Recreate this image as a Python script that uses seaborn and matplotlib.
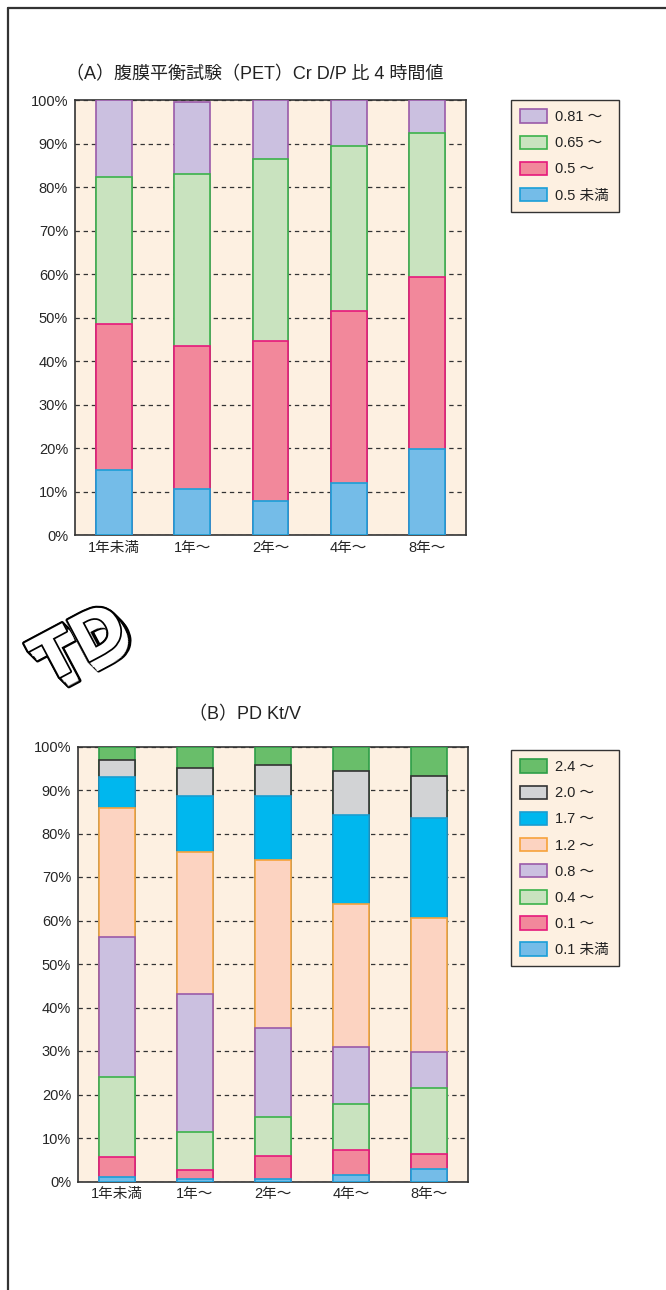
import numpy as np
import pandas as pd
import matplotlib
matplotlib.use("Agg")
import matplotlib.pyplot as plt
import matplotlib.patheffects as pe
from matplotlib.patches import Patch
from matplotlib.lines import Line2D
import seaborn as sns

# data (percent per layer, bottom -> top)
periods = ["1年未満", "1年～", "2年～", "4年～", "8年～"]

pet_labels = ["0.5 未満", "0.5 ～", "0.65 ～", "0.81 ～"]
pet_lt05 = [15.0, 10.5, 7.8, 11.9, 19.7]
pet_05 = [33.5, 33.0, 36.9, 39.6, 39.5]
pet_065 = [33.9, 39.6, 41.7, 37.9, 33.1]
pet_081 = [17.6, 16.4, 13.6, 10.6, 7.7]

ktv_labels = ["0.1 未満", "0.1 ～", "0.4 ～", "0.8 ～", "1.2 ～", "1.7 ～", "2.0 ～", "2.4 ～"]
ktv_lt01 = [1.0, 0.5, 0.6, 1.4, 2.8]
ktv_01 = [4.7, 2.1, 5.3, 5.8, 3.5]
ktv_04 = [18.4, 8.8, 9.0, 10.7, 15.3]
ktv_08 = [32.2, 31.7, 20.3, 13.1, 8.1]
ktv_12 = [29.6, 32.6, 38.7, 32.7, 30.8]
ktv_17 = [7.1, 13.0, 14.8, 20.5, 23.0]
ktv_20 = [4.0, 6.3, 7.0, 10.2, 9.8]
ktv_24 = [3.0, 5.0, 4.3, 5.6, 6.7]

# styles
BG = "#fdf0e1"
pet_fill = ["#74bce8", "#f2889b", "#c9e3bf", "#cbc0e0"]
pet_edge = ["#1a9fd8", "#e6197b", "#3cb24b", "#9a5aa9"]
ktv_fill = ["#74bce8", "#f2889b", "#c9e3bf", "#cbc0e0", "#fcd3c1", "#00b7ee", "#d2d3d5", "#69be6a"]
ktv_edge = ["#1a9fd8", "#e6197b", "#3cb24b", "#9a5aa9", "#f7a23b", "#1a9dd0", "#333333", "#2e9e48"]

sns.set_style("white")
plt.rcParams["font.family"] = ["Liberation Sans", "Noto Sans CJK JP", "DejaVu Sans"]
plt.rcParams["text.color"] = "#222222"

W, H = 666, 1290
fig = plt.figure(figsize=(W / 100, H / 100), dpi=100)
fig.patch.set_facecolor("white")

# page border (left + top)
fig.add_artist(Line2D([7.5 / W, 7.5 / W], [0, 1 - 8 / H], color="#333333", lw=1.6))
fig.add_artist(Line2D([7.5 / W, 1], [1 - 8 / H, 1 - 8 / H], color="#333333", lw=1.6))


def stacked(ax, layers, fills, edges):
    ax.set_facecolor(BG)
    cum = np.cumsum(np.array(layers), axis=0)
    # draw from the tallest cumulative down, each covering the lower part
    for i in range(len(layers) - 1, -1, -1):
        df = pd.DataFrame({"period": periods, "value": cum[i]})
        sns.barplot(data=df, x="period", y="value", color=fills[i], edgecolor=edges[i],
                    linewidth=1.2, width=0.46, saturation=1, ax=ax, zorder=3)
    ax.set_xlim(-0.5, 4.5)
    ax.set_ylim(0, 100)
    ax.set_yticks(np.arange(0, 101, 10))
    ax.set_yticklabels([f"{v}%" for v in range(0, 101, 10)], fontsize=10.5)
    ax.tick_params(axis="y", length=0, pad=5)
    ax.set_xticks(np.arange(-0.5, 5, 1))
    ax.set_xticklabels([])
    ax.tick_params(axis="x", which="major", direction="out", length=7, width=1, color="#333333")
    ax.set_xticks(np.arange(5), minor=True)
    ax.set_xticklabels(periods, minor=True, fontsize=10.5)
    ax.tick_params(axis="x", which="minor", length=0, pad=4)
    ax.set_xlabel("")
    ax.set_ylabel("")
    for s in ax.spines.values():
        s.set_color("#333333")
        s.set_linewidth(1.2)
    ax.yaxis.grid(True, color="#333333", linestyle=(0, (3.5, 3)), linewidth=0.9)
    ax.xaxis.grid(False)
    ax.set_axisbelow(True)


def legend(ax, labels, fills, edges, x, y):
    handles = [Patch(facecolor=f, edgecolor=e, linewidth=1.2) for f, e in zip(fills, edges)]
    leg = ax.legend(handles[::-1], labels[::-1], loc="upper left",
                    bbox_to_anchor=(x / W, 1 - y / H), bbox_transform=fig.transFigure,
                    fontsize=10.5, frameon=True, fancybox=False, framealpha=1,
                    facecolor=BG, edgecolor="#333333", handlelength=1.8, handleheight=1.05,
                    labelspacing=0.78, borderpad=0.65, handletextpad=0.6, borderaxespad=0)
    leg.get_frame().set_linewidth(1.0)


axA = fig.add_axes([75 / W, 1 - 535 / H, 391 / W, 435 / H])
stacked(axA, [pet_lt05, pet_05, pet_065, pet_081], pet_fill, pet_edge)
legend(axA, pet_labels, pet_fill, pet_edge, 511, 100)
fig.text(255 / W, 1 - 75 / H, "（A）腹膜平衡試験（PET）Cr D/P 比 4 時間値",
         ha="center", va="center", fontsize=13)

axB = fig.add_axes([78 / W, 1 - 1181.5 / H, 390 / W, 435 / H])
stacked(axB, [ktv_lt01, ktv_01, ktv_04, ktv_08, ktv_12, ktv_17, ktv_20, ktv_24], ktv_fill, ktv_edge)
legend(axB, ktv_labels, ktv_fill, ktv_edge, 511, 750)
fig.text(245 / W, 1 - 715 / H, "（B）PD Kt/V", ha="center", va="center", fontsize=13)

# logo (rough stand-in: outlined, extruded letters)
offs = range(7, -1, -1)
logo_kw = dict(ha="center", va="center", fontsize=46, fontweight="bold", rotation=28,
               family=["DejaVu Sans"])
for k in offs:
    fig.text((80 + k * 1.3) / W, 1 - (646 + k * 1.3) / H, "TD", color="black",
             path_effects=[pe.withStroke(linewidth=3, foreground="black")], **logo_kw)
for k in offs:
    fig.text((80 + k * 1.3) / W, 1 - (646 + k * 1.3) / H, "TD", color="white", **logo_kw)
fig.text(80 / W, 1 - 646 / H, "TD", color="white",
         path_effects=[pe.withStroke(linewidth=2.5, foreground="black")], **logo_kw)

fig.savefig("out.png", dpi=100)
